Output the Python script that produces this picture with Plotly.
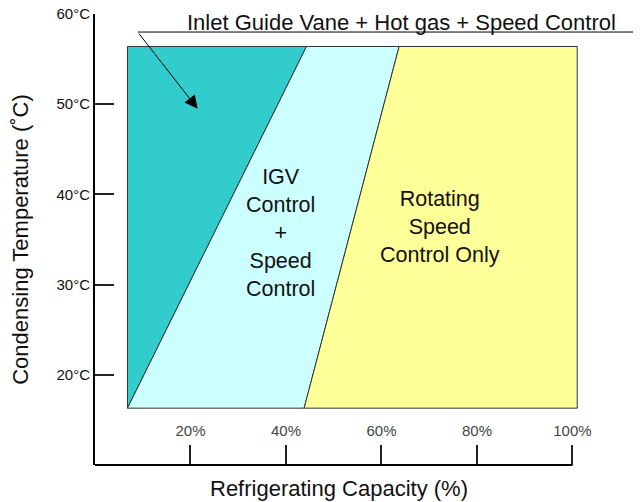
import plotly.graph_objects as go

# Operating envelope (capacity %, condensing temperature degC)
cap_min = 6.8
cap_max = 101.0
temp_low = 16.3
temp_high = 56.4

# Boundary between "IGV + Hot gas + Speed" and "IGV + Speed" zones
igv_hot_cap = [6.8, 44.3]       # capacity at temp_low, temp_high
# Boundary between "IGV + Speed" and "Speed only" zones
igv_speed_cap = [43.8, 63.7]    # capacity at temp_low, temp_high

x_ticks = [20, 40, 60, 80, 100]
x_tick_labels = ["20%", "40%", "60%", "80%", "100%"]
y_ticks = [20, 30, 40, 50, 60]
y_tick_labels = ["20°C", "30°C", "40°C", "50°C", "60°C"]

# arrow: tail -> head (data coords)
arrow_tail = (8.95, 58.0)
arrow_head = (21.5, 49.5)

FONT = "Arial, Liberation Sans, sans-serif"
edge = "#333333"

fig = go.Figure()

zones = [
    ("#33CCCC",
     [cap_min, igv_hot_cap[1], cap_min, cap_min],
     [temp_low, temp_high, temp_high, temp_low]),
    ("#CCFFFF",
     [igv_hot_cap[0], igv_speed_cap[0], igv_speed_cap[1], igv_hot_cap[1], igv_hot_cap[0]],
     [temp_low, temp_low, temp_high, temp_high, temp_low]),
    ("#FFFF99",
     [igv_speed_cap[0], cap_max, cap_max, igv_speed_cap[1], igv_speed_cap[0]],
     [temp_low, temp_low, temp_high, temp_high, temp_low]),
]
for color, xs, ys in zones:
    fig.add_trace(go.Scatter(
        x=xs, y=ys, mode="lines", fill="toself", fillcolor=color,
        line=dict(color=edge, width=1), hoverinfo="skip", showlegend=False
    ))

# region labels
fig.add_annotation(x=38.9, y=35.7, text="IGV<br>Control<br>+<br>Speed<br>Control",
                   showarrow=False, font=dict(size=21.5, color="#111", family=FONT))
fig.add_annotation(x=72.3, y=36.4, text="Rotating<br>Speed<br>Control Only",
                   showarrow=False, font=dict(size=21.5, color="#111", family=FONT))

# callout
fig.add_annotation(xref="paper", yref="paper", x=0.630, y=0.982,
                   text="Inlet Guide Vane + Hot gas + Speed Control", showarrow=False,
                   yanchor="middle", font=dict(size=22, color="#111", family=FONT))
fig.add_shape(type="line", xref="paper", yref="paper", x0=0.0883, x1=1.105,
              y0=0.960, y1=0.960, line=dict(color="black", width=1))
fig.add_annotation(x=arrow_head[0], y=arrow_head[1], ax=arrow_tail[0], ay=arrow_tail[1],
                   axref="x", ayref="y", text="", showarrow=True,
                   arrowhead=2, arrowsize=2.6, arrowwidth=1, arrowcolor="black")

# x axis line only up to 100%
fig.add_shape(type="line", xref="x", yref="paper", x0=0, x1=100, y0=0, y1=0,
              line=dict(color="black", width=2))

# x axis title below the axis
fig.add_annotation(xref="paper", yref="paper", x=0.5, y=-0.02, yanchor="top",
                   text="Refrigerating Capacity (%)", showarrow=False,
                   font=dict(size=22, color="#111", family=FONT))

fig.update_layout(
    width=642, height=502,
    margin=dict(l=95, r=60, t=14, b=37),
    plot_bgcolor="white", paper_bgcolor="white",
    font=dict(family=FONT, color="#111"),
    xaxis=dict(
        range=[0, 102], showgrid=False, zeroline=False, showline=False,
        automargin=False,
        tickvals=x_ticks, ticktext=x_tick_labels,
        ticks="inside", ticklen=20, tickwidth=2, tickcolor="#222",
        ticklabelposition="inside", ticklabeloverflow="allow",
        ticklabelstandoff=6, tickfont=dict(size=15),
    ),
    yaxis=dict(
        range=[10, 60], showgrid=False, zeroline=False, automargin=False,
        showline=True, linecolor="black", linewidth=2,
        tickvals=y_ticks, ticktext=y_tick_labels,
        ticks="inside", ticklen=19, tickwidth=2, tickcolor="#222",
        tickfont=dict(size=15),
        title=dict(text="Condensing Temperature (˚C)", font=dict(size=22), standoff=22),
    ),
)

fig.write_html(
    "out.html",
    config={"displayModeBar": False},
    post_script="document.body.style.margin='0px'; document.body.style.overflow='hidden';",
)
